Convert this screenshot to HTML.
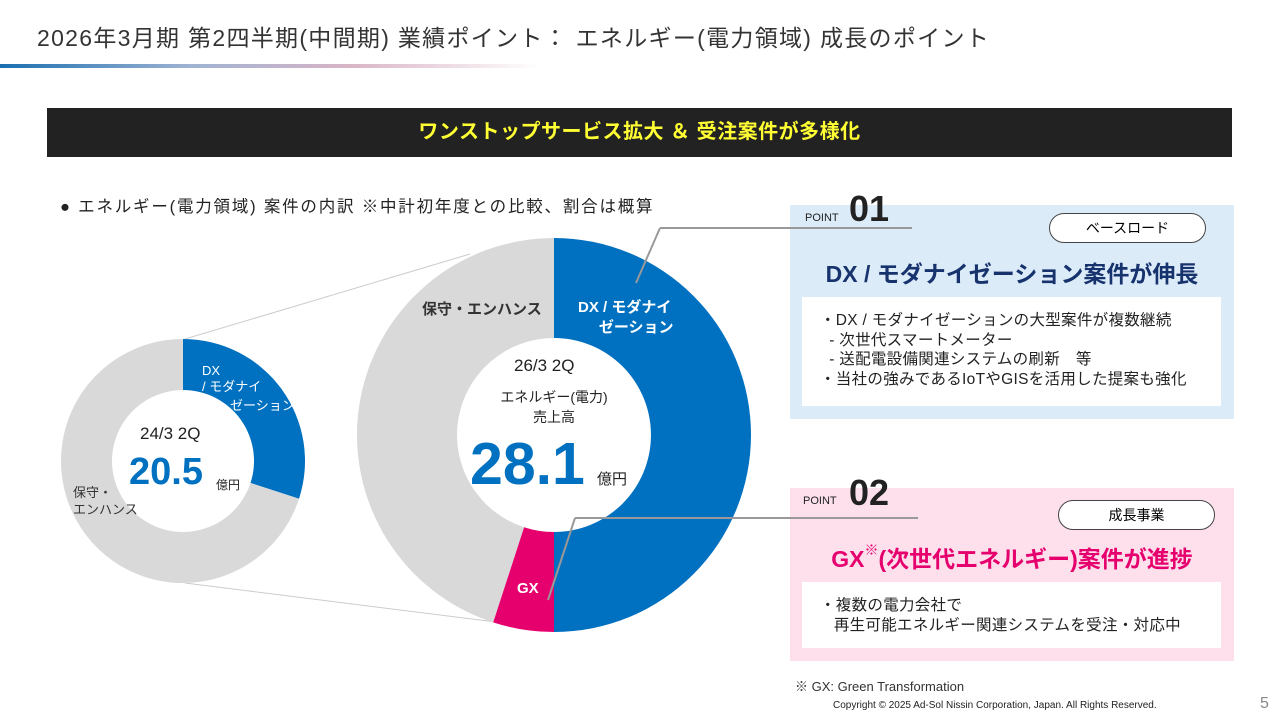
<!DOCTYPE html>
<html><head><meta charset="utf-8"><style>
body{margin:0;width:1280px;height:720px;overflow:hidden;background:#fff;font-family:"Liberation Sans","Noto Sans CJK JP",sans-serif;position:relative}
.a{position:absolute;white-space:nowrap}
</style></head><body>
<div class="a" style="left:37px;top:19px;font-size:23px;letter-spacing:1.3px;color:#333">2026年3月期 第2四半期(中間期) 業績ポイント： エネルギー(電力領域) 成長のポイント</div>
<div class="a" style="left:0;top:64px;width:540px;height:4px;background:linear-gradient(90deg,#1a6fb0,#9fb3d3 35%,#d9b5c6 65%,rgba(255,255,255,0))"></div>
<div class="a" style="left:47px;top:108px;width:1185px;height:49px;background:#222;color:#ffff33;font-size:20px;font-weight:bold;text-align:center;line-height:49px;letter-spacing:0.5px">ワンストップサービス拡大 ＆ 受注案件が多様化</div>
<div class="a" style="left:60px;top:193px;font-size:16.5px;letter-spacing:1.8px;color:#222">● エネルギー(電力領域) 案件の内訳 ※中計初年度との比較、割合は概算</div>

<svg class="a" style="left:0;top:0" width="1280" height="720">
<g id="lines"></g><g id="small"></g><g id="big"></g>
</svg>
<script>
const smallCats=["DX","保守・エンハンス"];
const smallVals=[30,70];
const bigCats=["DX","GX","保守・エンハンス"];
const bigVals=[50,5,45];
const colors={"DX":"#0070c0","GX":"#e6006e","保守・エンハンス":"#d9d9d9"};
function arc(cx,cy,R,r,a0,a1){
 const p=(a,rr)=>[cx+rr*Math.sin(a),cy-rr*Math.cos(a)];
 const l=(a1-a0)>Math.PI?1:0;
 const [x0,y0]=p(a0,R),[x1,y1]=p(a1,R),[x2,y2]=p(a1,r),[x3,y3]=p(a0,r);
 return `M${x0},${y0}A${R},${R} 0 ${l} 1 ${x1},${y1}L${x2},${y2}A${r},${r} 0 ${l} 0 ${x3},${y3}Z`;
}
function donut(gid,cats,vals,cx,cy,R,r){
 const g=document.getElementById(gid);const tot=vals.reduce((a,b)=>a+b,0);let a=0;
 cats.forEach((c,i)=>{const a1=a+vals[i]/tot*2*Math.PI;
  const p=document.createElementNS("http://www.w3.org/2000/svg","path");
  p.setAttribute("d",arc(cx,cy,R,r,a,a1));p.setAttribute("fill",colors[c]);
  
  
  g.appendChild(p);a=a1;});
}
const L=document.getElementById("lines");
L.innerHTML='<line x1="185" y1="339" x2="470" y2="254" stroke="#ccc"/><line x1="185" y1="583" x2="496" y2="622" stroke="#ccc"/>';
donut("small",smallCats,smallVals,183,461,122,71);
donut("big",bigCats,bigVals,554,435,197,97);
</script>

<div class="a" style="left:202px;top:363px;font-size:13px;color:#fff;line-height:16px">DX<br>/ モダナイ</div>
<div class="a" style="left:230px;top:395px;font-size:13px;color:#fff">ゼーション</div>
<div class="a" style="left:73px;top:484px;font-size:13px;color:#333;line-height:17px">保守・<br>エンハンス</div>
<div class="a" style="left:140px;top:424px;font-size:17px;color:#222">24/3 2Q</div>
<div class="a" style="left:129px;top:451px;font-size:38px;color:#0070c0;font-weight:bold">20.5</div>
<div class="a" style="left:216px;top:476px;font-size:12px;color:#222">億円</div>

<div class="a" style="left:422px;top:298px;font-size:15px;color:#333;font-weight:bold">保守・エンハンス</div>
<div class="a" style="left:578px;top:298px;font-size:15px;color:#fff;font-weight:bold;line-height:20px">DX / モダナイ<br>&nbsp;&nbsp;&nbsp;&nbsp;&nbsp;ゼーション</div>
<div class="a" style="left:517px;top:580px;font-size:15px;color:#fff;font-weight:bold">GX</div>
<div class="a" style="left:514px;top:356px;font-size:17px;color:#222">26/3 2Q</div>
<div class="a" style="left:494px;top:387px;font-size:14px;color:#222;text-align:center;line-height:20px;width:120px">エネルギー(電力)<br>売上高</div>
<div class="a" style="left:470px;top:430px;font-size:59px;color:#0070c0;font-weight:bold">28.1</div>
<div class="a" style="left:597px;top:468px;font-size:15px;color:#222">億円</div>

<div class="a" style="left:790px;top:205px;width:444px;height:214px;background:#dcebf8"></div>
<div class="a" style="left:805px;top:212px;font-size:11px;color:#222">POINT</div>
<div class="a" style="left:849px;top:188px;font-size:36px;color:#222;font-weight:bold">01</div>
<div class="a" style="left:1049px;top:213px;width:155px;height:28px;border:1.5px solid #444;border-radius:15px;background:#fff;text-align:center;line-height:28px;font-size:14px">ベースロード</div>
<div class="a" style="left:790px;top:255px;width:444px;text-align:center;font-size:23px;font-weight:bold;color:#17336e">DX / モダナイゼーション案件が伸長</div>
<div class="a" style="left:802px;top:297px;width:419px;height:109px;background:#fff;font-size:15.5px;letter-spacing:0.3px;color:#222;line-height:19.5px;padding:14px 0 0 18px;box-sizing:border-box">・DX / モダナイゼーションの大型案件が複数継続<br>&nbsp;&nbsp;- 次世代スマートメーター<br>&nbsp;&nbsp;- 送配電設備関連システムの刷新　等<br>・当社の強みであるIoTやGISを活用した提案も強化</div>

<div class="a" style="left:790px;top:488px;width:444px;height:173px;background:#fde0ec"></div>
<div class="a" style="left:803px;top:495px;font-size:11px;color:#222">POINT</div>
<div class="a" style="left:849px;top:472px;font-size:36px;color:#222;font-weight:bold">02</div>
<div class="a" style="left:1058px;top:500px;width:155px;height:28px;border:1.5px solid #444;border-radius:15px;background:#fff;text-align:center;line-height:28px;font-size:14px">成長事業</div>
<div class="a" style="left:790px;top:540px;width:444px;text-align:center;font-size:23px;font-weight:bold;color:#e6006e">GX<span style="font-size:14px;vertical-align:top">※</span>(次世代エネルギー)案件が進捗</div>
<div class="a" style="left:802px;top:582px;width:419px;height:66px;background:#fff;font-size:15.5px;letter-spacing:0.3px;color:#222;line-height:20px;padding:14px 0 0 18px;box-sizing:border-box">・複数の電力会社で<br>&nbsp;&nbsp;&nbsp;再生可能エネルギー関連システムを受注・対応中</div>

<svg class="a" style="left:0;top:0" width="1280" height="720">
<line x1="636" y1="283" x2="660" y2="228" stroke="#999" stroke-width="2"/>
<line x1="660" y1="228" x2="912" y2="228" stroke="#999" stroke-width="2"/>
<line x1="548" y1="600" x2="575" y2="518" stroke="#999" stroke-width="2"/>
<line x1="575" y1="518" x2="918" y2="518" stroke="#999" stroke-width="2"/>
</svg>

<div class="a" style="left:795px;top:676px;font-size:13px;color:#333">※ GX: Green Transformation</div>
<div class="a" style="left:833px;top:700px;font-size:10px;color:#222">Copyright © 2025 Ad-Sol Nissin Corporation, Japan. All Rights Reserved.</div>
<div class="a" style="left:1260px;top:695px;font-size:16px;color:#888">5</div>
</body></html>
